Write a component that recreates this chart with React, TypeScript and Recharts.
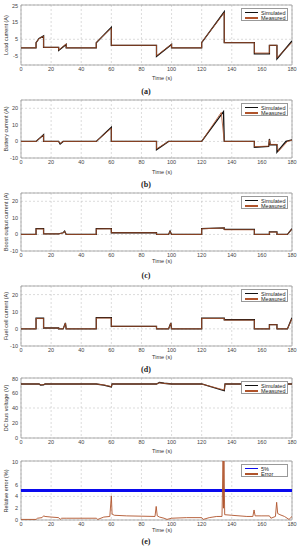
import { LineChart, Line, XAxis, YAxis, CartesianGrid, ReferenceArea } from 'recharts';

const TIME_TICKS = [0, 20, 40, 60, 80, 100, 120, 140, 160, 180];

// (a) load current
const loadT = [0, 10, 10, 12, 15, 15, 25, 25, 30, 30, 50, 50, 60, 60, 90, 90, 100, 100, 120, 120, 135, 135, 155, 155, 165, 165, 170, 170, 180];
const loadSim = [0, 0, 3, 5.5, 7, 0.3, 0.3, -1.5, 2, 0, 0, 3, 12, 1.5, 1.5, -5, 2, 0, 0, 3, 21, 3, 3, -3.5, -3.5, 1.5, 1.5, -6.5, 4];
const loadMeas = [0, 0, 3, 5.3, 6.8, 0.3, 0.3, -1.3, 2.3, 0, 0, 3.2, 11.5, 1.5, 1.5, -4.6, 2.1, 0, 0, 3.2, 20.5, 3, 3, -3, -3, 1.5, 1.5, -5.8, 3.2];

// (b) battery current
const batSimT = [0, 10, 15, 15, 25, 26, 28, 50, 60, 60, 90, 90, 98, 120, 134.5, 135, 155, 155, 164.5, 165, 165.5, 170, 170, 176, 180];
const batSim = [0, 0, 4, 0, 0, -1.5, 0, 0, 8.5, 0, 0, -5, 0, 0, 18, 0, 0, -3.5, -3, 1.5, -2, -2, -6.5, 0, 1];
const batMeasT = [0, 10, 15, 15, 25, 26, 28, 50, 60, 60, 90, 90, 98, 120, 133, 135, 155, 155, 164.5, 165, 165.5, 170, 171, 177, 180];
const batMeas = [0, 0, 3.8, 0, 0, -1.2, 0, 0, 8, 0, 0, -4.5, 0, 0, 17.5, 0, 0, -3.2, -2.8, 1, -1.8, -1.8, -6, 0, 0.8];

// (c) boost output current
const boostT = [0, 10, 10, 15, 15, 25, 28, 29, 30, 50, 50, 60, 60, 90, 90, 98, 99, 100, 120, 120, 135, 135, 155, 155, 165, 165, 170, 170, 177, 180];
const boostSim = [0, 0, 3.5, 3.5, 0.3, 0.3, 1, 2, 0, 0, 3.5, 3.5, 1, 1, 0, 0, 2, 0, 0, 3.5, 4, 3, 3, 0, 0, 1.5, 1.5, 0, 0, 3.5];
const boostMeas = [0, 0, 3.3, 3.3, 0.3, 0.3, 0.9, 1.8, 0, 0, 3.3, 3.4, 1, 1, 0, 0, 1.8, 0, 0, 3.4, 3.9, 2.8, 2.8, 0, 0, 1.4, 1.4, 0, 0, 3.2];

// (d) fuel cell current
const fcT = [0, 10, 10, 15, 15, 25, 25, 28, 29.5, 30, 50, 50, 60, 60, 90, 90, 98, 99.5, 100, 120, 120, 135, 135, 155, 155, 165, 165, 170, 170, 177, 180];
const fcSim = [0, 0, 6.2, 6.2, 0.5, 0.5, 0, 0, 3.5, 0, 0, 6.5, 6.5, 1.5, 1.5, 0, 0, 3.5, 0, 0, 6.3, 6.3, 5.3, 5.3, 0, 0, 2.5, 2.5, 0, 0, 6.5];
const fcMeas = [0, 0, 6, 6, 0.5, 0.5, 0, 0, 3.3, 0, 0, 6.3, 6.3, 1.5, 1.5, 0, 0, 3.3, 0, 0, 6.1, 6.1, 5.1, 5.1, 0, 0, 2.4, 2.4, 0, 0, 6];

// DC bus voltage
const busT = [0, 12, 13, 15, 16, 50, 55, 60, 60.5, 90, 92, 95, 100, 120, 135, 135.5, 180];
const busSim = [72, 72, 70.5, 71, 72, 72, 70.5, 68, 72, 72, 74, 73, 72, 72, 63, 72, 72];
const busMeas = [72, 72, 71, 71.3, 72, 72, 70.8, 68.5, 72, 72, 73.6, 72.8, 72, 72, 64, 72, 72];

// (e) relative error
const errT = [0, 10, 11, 14, 15, 16, 20, 25, 26, 27, 30, 50, 51, 55, 59, 60, 60.5, 62, 70, 89, 89.8, 90.5, 92, 95, 97, 100, 110, 120, 121, 125, 130, 133.5, 134.2, 134.5, 134.8, 135.3, 140, 150, 154, 154.8, 155.5, 160, 165, 166, 169, 169.8, 170.5, 172, 175, 178, 180];
const errVal = [0.1, 0.1, 0.3, 0.4, 0.7, 0.6, 0.5, 0.4, 0.1, 0.3, 0.3, 0.3, 0.1, 0.5, 0.6, 4.1, 1.0, 0.8, 0.7, 0.6, 2.3, 0.7, 0.5, 0.3, 0.1, 0.3, 0.4, 0.4, 0.1, 0.4, 0.6, 0.6, 10, 2, 10, 0.9, 0.8, 0.6, 0.6, 1.7, 0.7, 0.7, 0.7, 0.3, 0.6, 3.0, 1.1, 0.9, 0.6, 0.1, 0.6];
const limitT = [0, 180];
const limitVal = [5, 5];

const SIM = '#111111';
const MEAS = '#b0532b';
const BLUE = '#0a0aee';
const FONT = '"Liberation Sans", Arial, sans-serif';

const pts = (t: number[], v: number[]) => t.map((x, i) => ({ t: x, v: v[i] }));

type Series = { name: string; color: string; width: number; data: { t: number; v: number }[] };

interface PanelProps {
  top: number;
  plotH: number;
  domain: [number, number];
  yTicks: number[];
  yLabel: string;
  series: Series[];
  timeY: number;
  caption?: string;
  captionY?: number;
}

function Panel({ top, plotH, domain, yTicks, yLabel, series, timeY, caption, captionY }: PanelProps) {
  const tick = { fill: '#444', fontSize: 5.5, fontFamily: FONT };
  return (
    <>
      <div style={{ position: 'absolute', left: 0, top: top - 2 }}>
        <LineChart width={299} height={plotH + 16} margin={{ top: 2, right: 7, left: 9, bottom: 0 }}>
          <CartesianGrid strokeDasharray="2 2" stroke="#c4c4c4" strokeWidth={0.6} />
          <XAxis
            dataKey="t"
            type="number"
            domain={[0, 180]}
            ticks={TIME_TICKS}
            axisLine={false}
            tickLine={false}
            tickSize={1}
            tickMargin={1}
            height={14}
            tick={tick}
            allowDataOverflow
          />
          <YAxis
            type="number"
            domain={domain}
            ticks={yTicks}
            axisLine={false}
            tickLine={false}
            tickSize={2}
            tickMargin={1}
            width={12}
            tick={tick}
            allowDataOverflow
          />
          <ReferenceArea x1={0} x2={180} y1={domain[0]} y2={domain[1]} fill="none" stroke="#9a9a9a" strokeWidth={0.8} />
          {series.map((s) => (
            <Line
              key={s.name}
              data={s.data}
              dataKey="v"
              name={s.name}
              type="linear"
              stroke={s.color}
              strokeWidth={s.width}
              dot={false}
              isAnimationActive={false}
            />
          ))}
        </LineChart>
      </div>
      <div
        style={{
          position: 'absolute', left: 6, top: top + plotH / 2, transform: 'translate(-50%, -50%) rotate(-90deg)',
          whiteSpace: 'nowrap', fontSize: 5.5, fontFamily: FONT, color: '#333',
        }}
      >
        {yLabel}
      </div>
      <div
        style={{
          position: 'absolute', left: 162, top: timeY, transform: 'translate(-50%, -50%)',
          whiteSpace: 'nowrap', fontSize: 5.5, fontFamily: FONT, color: '#333',
        }}
      >
        Time (s)
      </div>
      {/* legend box, top right of the plot */}
      <div
        style={{
          position: 'absolute', left: 241, top: top + 3, width: 47, height: 13, background: '#fff',
          border: '0.6px solid #999', fontSize: 5.5, fontFamily: FONT, color: '#222', boxSizing: 'border-box',
          padding: '1px 0 0 3px',
        }}
      >
        {series.map((s) => (
          <div key={s.name} style={{ display: 'flex', alignItems: 'center', height: 5.3 }}>
            <span style={{ display: 'inline-block', width: 13, height: s.width > 2 ? 1.6 : 1.2, background: s.color, marginRight: 3 }} />
            <span>{s.name}</span>
          </div>
        ))}
      </div>
      {caption && (
        <div
          style={{
            position: 'absolute', left: 146, top: captionY, transform: 'translate(-50%, -50%)',
            fontSize: 8, fontWeight: 'bold', fontFamily: '"Liberation Serif", serif', color: '#222',
          }}
        >
          {caption}
        </div>
      )}
    </>
  );
}

const simMeas = (t1: number[], v1: number[], t2: number[], v2: number[]): Series[] => [
  { name: 'Simulated', color: SIM, width: 1.3, data: pts(t1, v1) },
  { name: 'Measured', color: MEAS, width: 0.8, data: pts(t2, v2) },
];

export default function App() {
  return (
    <div style={{ position: 'absolute', left: 0, top: 0, width: 299, height: 550, background: '#fff', overflow: 'hidden' }}>
      <Panel
        top={5} plotH={60} domain={[-10, 25]} yTicks={[-10, -5, 0, 5, 10, 15, 20, 25]}
        yLabel="Load current (A)" series={simMeas(loadT, loadSim, loadT, loadMeas)}
        timeY={78} caption="(a)" captionY={91}
      />
      <Panel
        top={100} plotH={58} domain={[-10, 25]} yTicks={[-10, 0, 10, 20]}
        yLabel="Battery current (A)" series={simMeas(batSimT, batSim, batMeasT, batMeas)}
        timeY={172} caption="(b)" captionY={184}
      />
      <Panel
        top={193} plotH={58} domain={[-10, 25]} yTicks={[-10, 0, 10, 20]}
        yLabel="Boost output current (A)" series={simMeas(boostT, boostSim, boostT, boostMeas)}
        timeY={261} caption="(c)" captionY={275}
      />
      <Panel
        top={286} plotH={60} domain={[-10, 25]} yTicks={[-10, 0, 10, 20]}
        yLabel="Fuel cell  current (A)" series={simMeas(fcT, fcSim, fcT, fcMeas)}
        timeY={357} caption="(d)" captionY={369}
      />
      <Panel
        top={378} plotH={60} domain={[0, 80]} yTicks={[0, 20, 40, 60, 80]}
        yLabel="DC bus voltage (V)" series={simMeas(busT, busSim, busT, busMeas)}
        timeY={451}
      />
      <Panel
        top={461} plotH={59} domain={[0, 10]} yTicks={[0, 2, 4, 6, 8, 10]}
        yLabel="Relative error (%)"
        series={[
          { name: '5%', color: BLUE, width: 3, data: pts(limitT, limitVal) },
          { name: 'Error', color: MEAS, width: 0.9, data: pts(errT, errVal) },
        ]}
        timeY={530} caption="(e)" captionY={541}
      />
    </div>
  );
}
